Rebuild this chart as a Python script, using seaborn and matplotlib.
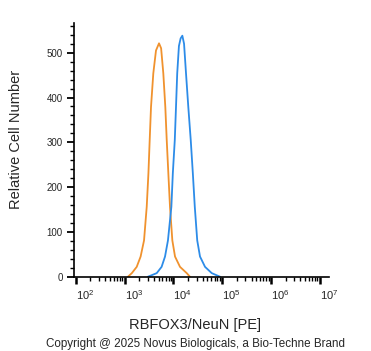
import numpy as np
import pandas as pd
import seaborn as sns
import matplotlib.pyplot as plt
import matplotlib.ticker as mticker
import matplotlib.transforms as mtransforms

# Histogram outlines (log10 of intensity, cell count)
orange_log = [3.07, 3.15, 3.25, 3.33, 3.40, 3.455, 3.49, 3.516, 3.543, 3.59, 3.645, 3.707,
              3.75, 3.795, 3.836, 3.865, 3.898, 3.932, 3.98, 4.035, 4.137, 4.275, 4.34]
orange_cnt = [0, 8, 22, 45, 81, 156, 231, 305, 379, 454, 505, 521,
              510, 454, 379, 305, 231, 156, 81, 45, 22, 8, 0]

blue_log = [3.48, 3.66, 3.76, 3.83, 3.89, 3.96, 3.99, 4.03, 4.055, 4.08, 4.115, 4.15, 4.185,
            4.22, 4.26, 4.307, 4.357, 4.40, 4.44, 4.49, 4.547, 4.65, 4.787, 4.957]
blue_cnt = [0, 8, 22, 45, 81, 156, 231, 305, 379, 454, 515, 532, 538,
            520, 454, 379, 305, 231, 156, 81, 45, 22, 8, 0]

x_decades = [2, 3, 4, 5, 6, 7]
y_ticks = [0, 100, 200, 300, 400, 500]

df = pd.concat([
    pd.DataFrame({'x': 10 ** np.array(orange_log), 'y': orange_cnt, 's': 'control'}),
    pd.DataFrame({'x': 10 ** np.array(blue_log), 'y': blue_cnt, 's': 'stained'}),
])

sns.set_style('ticks')
plt.rcParams['font.family'] = ['Liberation Sans', 'DejaVu Sans']
plt.rcParams['mathtext.fontset'] = 'custom'
plt.rcParams['mathtext.rm'] = 'Liberation Sans'

fig = plt.figure(figsize=(3.71, 3.51), dpi=100)
ax = fig.add_axes([74 / 371, 1 - 277.3 / 351, 255 / 371, 254.6 / 351])

sns.lineplot(data=df, x='x', y='y', hue='s', sort=False, estimator=None,
             palette={'control': '#F0922E', 'stained': '#2D8CE8'},
             linewidth=1.3, legend=False, ax=ax)

ax.set_xscale('log')
ax.set_xlim(10 ** 1.965, 10 ** 7.19)
ax.set_ylim(-1.3, 567)

ax.xaxis.set_major_locator(mticker.FixedLocator([10.0 ** d for d in x_decades]))
ax.xaxis.set_minor_locator(mticker.LogLocator(base=10, subs=np.arange(2, 10), numticks=20))
ax.xaxis.set_minor_formatter(mticker.NullFormatter())
ax.set_xticklabels([r'$\mathregular{10^{%d}}$' % d for d in x_decades], fontsize=8, ha='left')
offset = mtransforms.ScaledTranslation(4 / 100, -1 / 100, fig.dpi_scale_trans)
for lab in ax.get_xticklabels():
    lab.set_transform(lab.get_transform() + offset)

ax.set_yticks(y_ticks)
ax.yaxis.set_minor_locator(mticker.MultipleLocator(20))
ax.set_yticklabels([str(v) for v in y_ticks], fontsize=7)

for s in ['top', 'right']:
    ax.spines[s].set_visible(False)
for s in ['left', 'bottom']:
    ax.spines[s].set_linewidth(1.2)
    ax.spines[s].set_color('black')

ax.tick_params(axis='both', which='major', length=5, width=1.3, color='black', pad=3)
ax.tick_params(axis='both', which='minor', length=2.8, width=1.0, color='black')
ax.tick_params(axis='x', which='major', width=1.8)

ax.set_xlabel('RBFOX3/NeuN [PE]', fontsize=10.5)
ax.set_ylabel('Relative Cell Number', fontsize=10.5)
ax.xaxis.set_label_coords(0.476, -0.16)
ax.yaxis.set_label_coords(-0.2, 0.54)

fig.text(0.527, 1 - 344 / 351, 'Copyright @ 2025 Novus Biologicals, a Bio-Techne Brand',
         ha='center', va='center', fontsize=8.4)

fig.savefig('out.png', dpi=100)
